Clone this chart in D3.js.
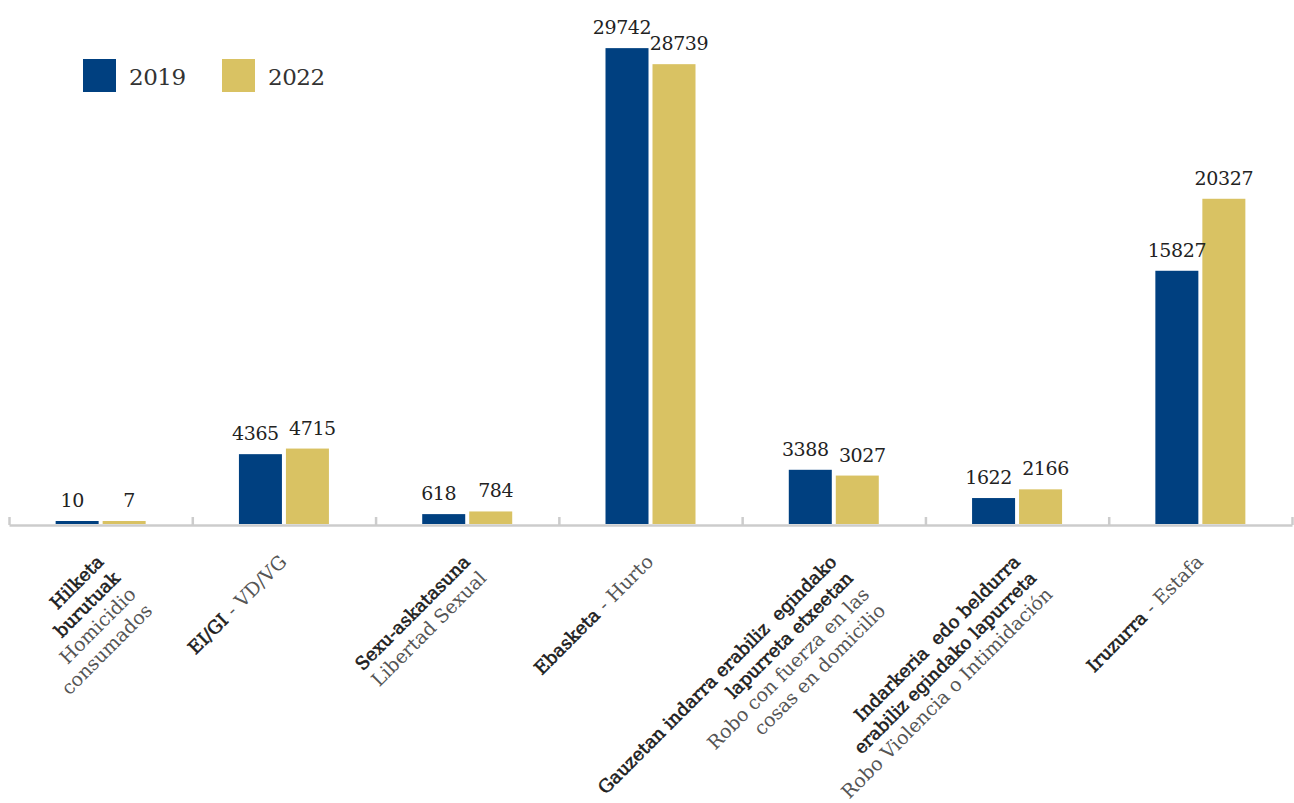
<!DOCTYPE html>
<html>
<head>
<meta charset="utf-8">
<script src="https://cdn.jsdelivr.net/npm/d3@7"></script>
<style>
body { margin: 0; background: #fff; }
svg text { font-family: "DejaVu Serif", serif; white-space: pre; }
</style>
</head>
<body>
<svg width="1294" height="803"></svg>
<script>
var categories = ["Hilketa burutuak", "EI/GI", "Sexu-askatasuna", "Ebasketa", "Gauzetan indarra", "Indarkeria", "Iruzurra"];
var years = ["2019", "2022"];
var values2019 = [10, 4365, 618, 29742, 3388, 1622, 15827];
var values2022 = [7, 4715, 784, 28739, 3027, 2166, 20327];
// each line of a category label: [basque part (bold), spanish part (light)]
var labelLines = [
  [["Hilketa", ""], ["burutuak", ""], ["", "Homicidio"], ["", "consumados"]],
  [["EI/GI", " - VD/VG"]],
  [["Sexu-askatasuna", ""], ["", "Libertad Sexual"]],
  [["Ebasketa", " - Hurto"]],
  [["Gauzetan indarra erabiliz  egindako", ""], ["lapurreta etxeetan", ""], ["", "Robo con fuerza en las"], ["", "cosas en domicilio"]],
  [["Indarkeria  edo beldurra", ""], ["erabiliz egindako lapurreta", ""], ["", "Robo Violencia o Intimidación"]],
  [["Iruzurra", " - Estafa"]]
];

var colors = {"2019": "#004080", "2022": "#d9c263"};

var svg = d3.select("svg"),
    width = +svg.attr("width"),
    height = +svg.attr("height");

var left = 9, right = 1292, base = 524;
var groupWidth = 90;

var step = (right - left) / categories.length;
var pad = 1 - groupWidth / step;

var x0 = d3.scaleBand()
    .domain(categories)
    .range([left, right])
    .paddingInner(pad)
    .paddingOuter(pad / 2);

var x1 = d3.scaleBand()
    .domain(years)
    .range([0, groupWidth])
    .paddingInner(0.085);

var y = d3.scaleLinear()
    .domain([0, 30000])
    .range([base, 44]);

var rows = categories.map(function(c, i) {
  var a = {year: "2019", value: values2019[i]},
      b = {year: "2022", value: values2022[i]};
  // push labels apart a little when both bars end at a similar height
  var close = Math.abs(y(a.value) - y(b.value)) < 22;
  a.shift = close ? -5 : 0;
  b.shift = close ? 5 : 0;
  return {cat: c, i: i, vals: [a, b]};
});

function barTop(v) { return Math.min(y(v), base - 3); }

// axis with ticks between groups
var tickScale = d3.scaleLinear().domain([0, categories.length]).range([left, right]);
var axis = svg.append("g")
    .attr("transform", "translate(0," + (base + 1) + ")")
    .call(d3.axisBottom(tickScale)
      .tickValues(d3.range(categories.length + 1))
      .tickSizeInner(-8)
      .tickSizeOuter(0)
      .tickFormat(""));
axis.select(".domain").attr("stroke", "#cccccc").attr("stroke-width", 2.5);
axis.selectAll(".tick line").attr("stroke", "#cccccc").attr("stroke-width", 2.5);

var group = svg.append("g")
  .selectAll("g")
  .data(rows)
  .enter().append("g")
    .attr("transform", function(d) { return "translate(" + x0(d.cat) + ",0)"; });

group.selectAll("rect")
  .data(function(d) { return d.vals; })
  .enter().append("rect")
    .attr("x", function(d) { return x1(d.year); })
    .attr("y", function(d) { return barTop(d.value); })
    .attr("width", x1.bandwidth())
    .attr("height", function(d) { return base - barTop(d.value); })
    .attr("fill", function(d) { return colors[d.year]; });

group.selectAll("text.val")
  .data(function(d) { return d.vals; })
  .enter().append("text")
    .attr("class", "val")
    .attr("x", function(d) { return x1(d.year) + x1.bandwidth() / 2 + d.shift; })
    .attr("y", function(d) { return barTop(d.value) - 14; })
    .attr("text-anchor", "middle")
    .attr("font-size", 19)
    .attr("letter-spacing", -0.4)
    .attr("fill", "#222")
    .text(function(d) { return d.value; });

// rotated category labels
var lineHeight = 23;
var labels = svg.append("g")
  .selectAll("g")
  .data(rows)
  .enter().append("g")
    .attr("transform", function(d) {
      return "translate(" + (x0(d.cat) + x0.bandwidth() / 2 + 4) + "," + 563 + ") rotate(-45)";
    });

labels.each(function(d) {
  var g = d3.select(this);
  labelLines[d.i].forEach(function(line, j) {
    var t = g.append("text")
      .attr("x", 0)
      .attr("y", j * lineHeight)
      .attr("text-anchor", "end");
    if (line[0]) t.append("tspan")
      .attr("font-size", 18)
      .attr("fill", "#1e1e1e")
      .attr("stroke", "#1e1e1e")
      .attr("stroke-width", 0.6)
      .text(line[0]);
    if (line[1]) t.append("tspan")
      .attr("font-size", 19)
      .attr("fill", "#555")
      .text(line[1]);
  });
});

// legend
var legend = svg.append("g")
  .selectAll("g")
  .data(years)
  .enter().append("g")
    .attr("transform", function(d, i) { return "translate(" + (83 + i * 139) + ",59)"; });

legend.append("rect")
    .attr("width", 33)
    .attr("height", 33)
    .attr("fill", function(d) { return colors[d]; });

legend.append("text")
    .attr("x", 46)
    .attr("y", 26)
    .attr("font-size", 23)
    .attr("letter-spacing", -0.5)
    .attr("fill", "#333")
    .text(function(d) { return d; });
</script>
</body>
</html>
